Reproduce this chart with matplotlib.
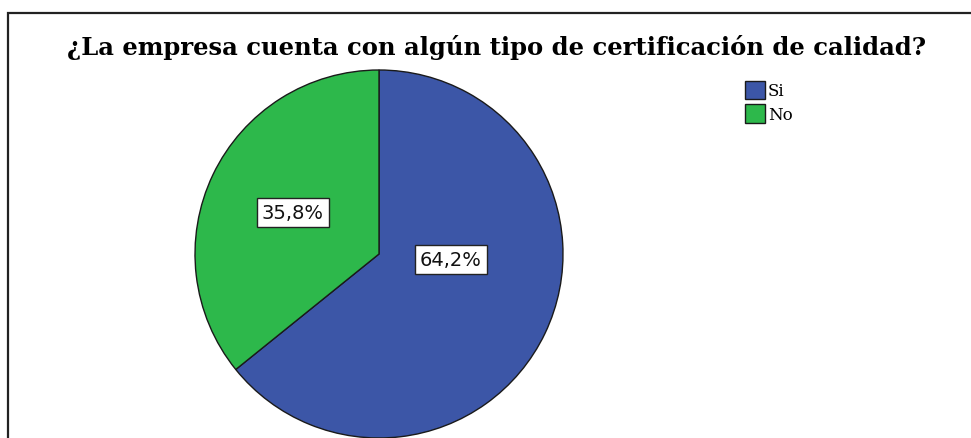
import matplotlib.pyplot as plt
from matplotlib.patches import Rectangle

# data
categories = ['Si', 'No']
shares = [64.2, 35.8]
colors = ['#3c56a7', '#2db84b']
title = '¿La empresa cuenta con algún tipo de certificación de calidad?'

W, H = 971, 439
fig = plt.figure(figsize=(W / 100, H / 100), dpi=100)
fig.patch.set_facecolor('white')

# outer frame (right and bottom sides run off the image)
fig.add_artist(Rectangle((8 / W, -0.2), 1.2, (H - 14) / H + 0.2,
                         transform=fig.transFigure, fill=False,
                         edgecolor='#222222', lw=1.6))

# pie axes, centre (379, 255) px, radius 184 px
cx, cy, r = 379, 255, 184
ax = fig.add_axes([(cx - r) / W, (H - cy - r) / H, 2 * r / W, 2 * r / H])
wedges, texts, autotexts = ax.pie(
    shares, colors=colors, startangle=90, counterclock=False,
    autopct=lambda p: f'{p:.1f}%'.replace('.', ','), pctdistance=0.52,
    wedgeprops=dict(edgecolor='#1a1a1a', linewidth=1.0),
    textprops=dict(fontsize=14, family='DejaVu Sans', color='#111111'))
ax.set_xlim(-1, 1)
ax.set_ylim(-1, 1)
for w in wedges:
    w.set_clip_on(False)

# SPSS puts the big slice label closer to the middle
autotexts[0].set_position((0.39, -0.03))
for t in autotexts:
    t.set_bbox(dict(facecolor='white', edgecolor='#222222', linewidth=1.0,
                    boxstyle='square,pad=0.25'))

fig.text(497 / W, 1 - 48 / H, title, ha='center', va='center',
         fontsize=17.5, fontweight='bold', family='DejaVu Serif')

fig.legend(wedges, categories, loc='upper left',
           bbox_to_anchor=(733 / W, 1 - 70 / H), frameon=False,
           prop=dict(family='DejaVu Serif', size=12),
           handlelength=1.2, handleheight=1.3, handletextpad=0.2,
           labelspacing=0.3, borderpad=0.2)

fig.savefig('out.png', dpi=100)
